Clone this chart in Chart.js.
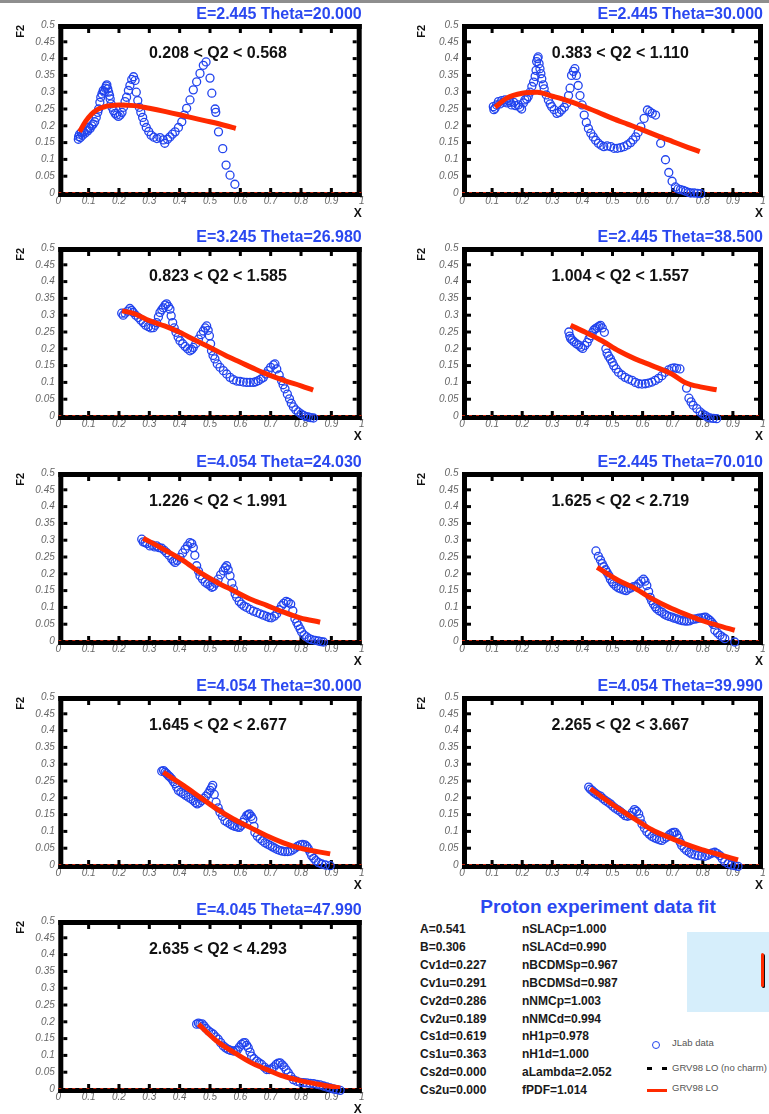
<!DOCTYPE html>
<html><head><meta charset="utf-8">
<script src="https://cdn.jsdelivr.net/npm/chart.js"></script>
<style>
html,body{margin:0;padding:0;background:#fff;}
#page{position:relative;width:769px;height:1114px;overflow:hidden;background:#fff;font-family:"Liberation Sans",Arial,sans-serif;}
#topbar{position:absolute;left:0;top:0;width:769px;height:3px;background:#8e8e8e;}
canvas.panel{position:absolute;}
.txt{position:absolute;white-space:nowrap;}
.par{font-weight:bold;font-size:12px;line-height:14px;color:#1a1a1a;}
.leg{font-size:9.5px;line-height:12px;color:#555;}
</style></head><body>
<div id="page">
<div id="topbar"></div>
<div class="txt" id="fitTitle" style="left:448px;top:896px;width:300px;text-align:center;font-weight:bold;font-size:19px;line-height:22px;color:#2a48f0;">Proton experiment data fit</div>
<div style="position:absolute;left:687px;top:932px;width:82px;height:80px;background:#d6eefb;"></div>
<div style="position:absolute;left:762px;top:954px;width:3px;height:34px;background:#111;border-radius:1.5px;"></div>
<div style="position:absolute;left:761px;top:953px;width:3px;height:34px;background:#ff2a00;border-radius:1.5px;"></div>
<div style="position:absolute;left:652px;top:1041px;width:6px;height:6px;border:1.4px solid #2244ee;border-radius:50%;"></div>
<div class="txt leg" style="left:672px;top:1037px;">JLab data</div>
<div style="position:absolute;left:647px;top:1066.5px;width:5px;height:3px;background:#000;"></div>
<div style="position:absolute;left:662px;top:1066.5px;width:5px;height:3px;background:#000;"></div>
<div class="txt leg" style="left:672px;top:1062px;">GRV98 LO (no charm)</div>
<div style="position:absolute;left:647px;top:1088.5px;width:20px;height:3.5px;background:#ff2a00;"></div>
<div class="txt leg" style="left:672px;top:1082px;">GRV98 LO</div>
</div>
<script>
// ---------- data ----------
const panelTitles = ["E=2.445 Theta=20.000","E=2.445 Theta=30.000","E=3.245 Theta=26.980","E=2.445 Theta=38.500","E=4.054 Theta=24.030","E=2.445 Theta=70.010","E=4.054 Theta=30.000","E=4.054 Theta=39.990","E=4.045 Theta=47.990"];
const q2Ranges = ["0.208 < Q2 < 0.568","0.383 < Q2 < 1.110","0.823 < Q2 < 1.585","1.004 < Q2 < 1.557","1.226 < Q2 < 1.991","1.625 < Q2 < 2.719","1.645 < Q2 < 2.677","2.265 < Q2 < 3.667","2.635 < Q2 < 4.293"];
const xTicks = [0,0.1,0.2,0.3,0.4,0.5,0.6,0.7,0.8,0.9,1];
const yTicks = [0,0.05,0.1,0.15,0.2,0.25,0.3,0.35,0.4,0.45,0.5];
const paramsLeft = ["A=0.541","B=0.306","Cv1d=0.227","Cv1u=0.291","Cv2d=0.286","Cv2u=0.189","Cs1d=0.619","Cs1u=0.363","Cs2d=0.000","Cs2u=0.000"];
const paramsRight = ["nSLACp=1.000","nSLACd=0.990","nBCDMSp=0.967","nBCDMSd=0.987","nNMCp=1.003","nNMCd=0.994","nH1p=0.978","nH1d=1.000","aLambda=2.052","fPDF=1.014"];

const jlab1X = [0.066,0.067,0.070,0.073,0.076,0.080,0.083,0.088,0.092,0.097,0.100,0.105,0.110,0.115,0.120,0.125,0.130,0.133,0.137,0.140,0.144,0.148,0.152,0.155,0.158,0.160,0.163,0.166,0.169,0.171,0.174,0.177,0.182,0.187,0.192,0.198,0.204,0.210,0.215,0.220,0.225,0.231,0.236,0.242,0.248,0.253,0.257,0.262,0.267,0.272,0.278,0.283,0.290,0.298,0.306,0.315,0.325,0.335,0.346,0.351,0.360,0.368,0.376,0.385,0.396,0.407,0.415,0.423,0.434,0.445,0.456,0.467,0.478,0.487,0.500,0.506,0.517,0.519,0.528,0.542,0.553,0.566,0.582];
const jlab1Y = [0.160,0.168,0.175,0.165,0.180,0.172,0.182,0.178,0.188,0.185,0.195,0.192,0.200,0.205,0.212,0.225,0.240,0.250,0.270,0.285,0.295,0.305,0.300,0.312,0.318,0.322,0.310,0.300,0.290,0.280,0.265,0.255,0.245,0.237,0.232,0.228,0.232,0.240,0.255,0.272,0.285,0.305,0.320,0.338,0.346,0.335,0.300,0.275,0.255,0.240,0.225,0.210,0.195,0.183,0.172,0.166,0.162,0.165,0.158,0.148,0.160,0.167,0.175,0.182,0.195,0.212,0.232,0.252,0.277,0.307,0.331,0.356,0.380,0.390,0.342,0.297,0.250,0.240,0.182,0.132,0.083,0.053,0.026];
const fit1X = [0.07,0.09,0.11,0.13,0.15,0.17,0.2,0.25,0.3,0.35,0.4,0.45,0.5,0.55,0.585];
const fit1Y = [0.182,0.213,0.235,0.249,0.256,0.260,0.262,0.260,0.252,0.243,0.233,0.222,0.212,0.201,0.192];

const jlab2X = [0.104,0.106,0.110,0.115,0.121,0.126,0.132,0.138,0.143,0.150,0.155,0.160,0.165,0.172,0.178,0.187,0.192,0.198,0.204,0.209,0.215,0.220,0.226,0.232,0.238,0.243,0.246,0.248,0.251,0.253,0.256,0.259,0.262,0.265,0.270,0.273,0.280,0.287,0.293,0.298,0.306,0.315,0.323,0.331,0.340,0.348,0.354,0.359,0.364,0.370,0.375,0.380,0.386,0.392,0.399,0.406,0.413,0.420,0.428,0.436,0.444,0.453,0.462,0.471,0.482,0.494,0.505,0.516,0.527,0.538,0.549,0.560,0.568,0.577,0.585,0.594,0.605,0.616,0.624,0.632,0.643,0.660,0.676,0.687,0.698,0.709,0.718,0.726,0.735,0.743,0.752,0.760,0.771,0.782,0.793];
const jlab2Y = [0.257,0.248,0.252,0.262,0.272,0.265,0.275,0.270,0.277,0.268,0.275,0.270,0.262,0.270,0.260,0.262,0.255,0.250,0.268,0.277,0.280,0.287,0.300,0.317,0.330,0.347,0.365,0.391,0.400,0.405,0.385,0.370,0.355,0.340,0.322,0.310,0.292,0.277,0.265,0.257,0.248,0.237,0.240,0.247,0.255,0.267,0.290,0.312,0.350,0.362,0.370,0.350,0.320,0.290,0.262,0.232,0.210,0.192,0.178,0.167,0.157,0.148,0.142,0.138,0.140,0.138,0.133,0.133,0.135,0.138,0.143,0.150,0.158,0.167,0.180,0.197,0.222,0.247,0.242,0.237,0.232,0.148,0.099,0.061,0.035,0.018,0.012,0.010,0.008,0.005,0.002,0.000,0.000,-0.001,-0.002];
const fit2X = [0.11,0.15,0.2,0.25,0.3,0.35,0.4,0.45,0.5,0.55,0.6,0.65,0.7,0.75,0.79];
const fit2Y = [0.255,0.283,0.297,0.300,0.288,0.275,0.259,0.241,0.222,0.205,0.188,0.170,0.153,0.136,0.123];

const jlab3X = [0.209,0.214,0.220,0.228,0.236,0.242,0.247,0.255,0.264,0.272,0.280,0.288,0.297,0.305,0.313,0.319,0.324,0.330,0.335,0.341,0.346,0.352,0.357,0.363,0.368,0.372,0.377,0.382,0.388,0.395,0.401,0.410,0.418,0.426,0.434,0.440,0.445,0.453,0.462,0.470,0.478,0.484,0.489,0.494,0.498,0.502,0.505,0.510,0.516,0.524,0.533,0.544,0.555,0.566,0.577,0.588,0.599,0.610,0.621,0.632,0.643,0.651,0.659,0.668,0.676,0.684,0.692,0.700,0.709,0.714,0.720,0.728,0.736,0.741,0.747,0.755,0.762,0.768,0.775,0.783,0.791,0.800,0.808,0.816,0.824,0.832,0.841];
const jlab3Y = [0.306,0.300,0.306,0.312,0.320,0.314,0.308,0.300,0.293,0.285,0.278,0.270,0.266,0.262,0.263,0.270,0.278,0.295,0.308,0.316,0.322,0.330,0.334,0.326,0.318,0.298,0.278,0.262,0.249,0.235,0.224,0.215,0.207,0.200,0.194,0.198,0.204,0.215,0.229,0.242,0.253,0.262,0.268,0.255,0.239,0.215,0.194,0.180,0.170,0.155,0.145,0.135,0.125,0.115,0.108,0.104,0.103,0.101,0.100,0.100,0.100,0.102,0.105,0.110,0.115,0.125,0.135,0.145,0.152,0.155,0.140,0.122,0.105,0.093,0.081,0.065,0.051,0.038,0.027,0.018,0.012,0.006,0.002,-0.002,-0.003,-0.005,-0.006];
const fit3X = [0.21,0.25,0.3,0.35,0.4,0.45,0.5,0.55,0.6,0.65,0.7,0.75,0.8,0.84];
const fit3Y = [0.313,0.305,0.284,0.268,0.249,0.226,0.204,0.181,0.160,0.139,0.120,0.104,0.090,0.077];

const jlab4X = [0.355,0.358,0.361,0.366,0.372,0.380,0.388,0.395,0.401,0.408,0.416,0.422,0.427,0.433,0.438,0.444,0.449,0.455,0.460,0.466,0.473,0.478,0.482,0.487,0.493,0.499,0.504,0.512,0.520,0.531,0.542,0.553,0.565,0.576,0.587,0.598,0.609,0.620,0.631,0.642,0.653,0.664,0.675,0.686,0.697,0.705,0.713,0.724,0.746,0.754,0.761,0.768,0.780,0.791,0.799,0.807,0.815,0.824,0.835,0.846];
const jlab4Y = [0.250,0.238,0.231,0.226,0.221,0.215,0.211,0.205,0.201,0.210,0.219,0.230,0.239,0.248,0.256,0.260,0.263,0.267,0.270,0.262,0.249,0.200,0.187,0.178,0.170,0.160,0.150,0.140,0.130,0.122,0.115,0.110,0.106,0.100,0.096,0.095,0.096,0.098,0.101,0.106,0.112,0.120,0.130,0.137,0.142,0.143,0.142,0.140,0.083,0.053,0.042,0.032,0.022,0.012,0.006,0.002,-0.003,-0.006,-0.007,-0.008];
const fit4X = [0.361,0.41,0.465,0.52,0.575,0.631,0.697,0.741,0.796,0.846];
const fit4Y = [0.270,0.249,0.224,0.194,0.170,0.150,0.125,0.100,0.086,0.078];

const jlab5X = [0.275,0.280,0.286,0.292,0.302,0.310,0.318,0.324,0.332,0.341,0.349,0.357,0.365,0.374,0.380,0.385,0.392,0.401,0.410,0.418,0.426,0.434,0.440,0.445,0.450,0.456,0.462,0.467,0.475,0.484,0.492,0.500,0.506,0.511,0.519,0.527,0.535,0.544,0.550,0.555,0.560,0.566,0.572,0.577,0.583,0.588,0.596,0.604,0.612,0.621,0.632,0.643,0.654,0.665,0.676,0.687,0.695,0.703,0.712,0.720,0.728,0.736,0.743,0.751,0.758,0.766,0.773,0.780,0.786,0.791,0.797,0.802,0.810,0.819,0.827,0.835,0.846,0.857,0.866,0.874];
const jlab5Y = [0.303,0.295,0.293,0.290,0.283,0.285,0.280,0.283,0.278,0.276,0.270,0.263,0.255,0.244,0.238,0.234,0.240,0.249,0.262,0.273,0.283,0.293,0.290,0.278,0.255,0.224,0.208,0.194,0.185,0.175,0.170,0.165,0.160,0.162,0.172,0.184,0.197,0.209,0.218,0.224,0.212,0.194,0.172,0.155,0.140,0.130,0.118,0.110,0.104,0.100,0.094,0.089,0.085,0.081,0.077,0.073,0.070,0.069,0.074,0.081,0.093,0.105,0.112,0.118,0.115,0.110,0.090,0.066,0.055,0.046,0.036,0.027,0.018,0.012,0.007,0.004,0.002,0.000,-0.002,-0.003];
const fit5X = [0.28,0.357,0.412,0.467,0.522,0.577,0.632,0.687,0.742,0.797,0.863];
const fit5Y = [0.306,0.268,0.239,0.204,0.175,0.150,0.125,0.106,0.086,0.069,0.056];

const jlab6X = [0.445,0.453,0.460,0.466,0.471,0.477,0.482,0.488,0.493,0.499,0.504,0.512,0.520,0.528,0.537,0.545,0.553,0.561,0.570,0.578,0.587,0.595,0.603,0.608,0.614,0.620,0.625,0.630,0.636,0.642,0.647,0.655,0.664,0.672,0.680,0.688,0.697,0.705,0.713,0.721,0.730,0.738,0.746,0.755,0.763,0.771,0.779,0.787,0.796,0.803,0.809,0.817,0.824,0.830,0.835,0.840,0.849,0.857,0.865,0.873,0.906];
const jlab6Y = [0.268,0.252,0.241,0.230,0.221,0.212,0.204,0.195,0.184,0.176,0.170,0.163,0.158,0.155,0.152,0.150,0.155,0.158,0.162,0.163,0.170,0.178,0.184,0.178,0.165,0.147,0.130,0.120,0.110,0.102,0.096,0.090,0.086,0.080,0.076,0.073,0.071,0.068,0.066,0.063,0.061,0.060,0.059,0.060,0.063,0.065,0.066,0.068,0.069,0.070,0.071,0.066,0.061,0.055,0.049,0.032,0.024,0.017,0.012,0.007,-0.003];
const fit6X = [0.449,0.52,0.576,0.631,0.686,0.741,0.796,0.851,0.906];
const fit6Y = [0.219,0.180,0.156,0.126,0.101,0.080,0.061,0.046,0.032];

const jlab7X = [0.341,0.347,0.352,0.357,0.363,0.368,0.374,0.380,0.385,0.390,0.396,0.404,0.412,0.420,0.429,0.437,0.445,0.452,0.458,0.466,0.473,0.480,0.487,0.494,0.500,0.505,0.509,0.514,0.520,0.527,0.533,0.541,0.549,0.557,0.566,0.574,0.582,0.590,0.597,0.603,0.608,0.614,0.621,0.626,0.630,0.636,0.641,0.645,0.648,0.656,0.665,0.673,0.681,0.690,0.698,0.706,0.714,0.722,0.731,0.739,0.747,0.756,0.764,0.772,0.780,0.788,0.797,0.805,0.813,0.819,0.824,0.830,0.835,0.842,0.849,0.858,0.868,0.880,0.896];
const jlab7Y = [0.279,0.281,0.276,0.272,0.266,0.262,0.256,0.248,0.242,0.232,0.222,0.217,0.212,0.207,0.202,0.197,0.192,0.186,0.182,0.186,0.192,0.198,0.205,0.213,0.222,0.230,0.237,0.210,0.187,0.170,0.157,0.145,0.132,0.127,0.122,0.118,0.115,0.113,0.112,0.118,0.127,0.137,0.147,0.150,0.152,0.145,0.137,0.115,0.097,0.086,0.078,0.072,0.066,0.062,0.058,0.054,0.050,0.046,0.043,0.041,0.040,0.040,0.041,0.045,0.050,0.055,0.060,0.061,0.060,0.055,0.048,0.038,0.028,0.020,0.013,0.007,0.003,0.000,-0.002];
const fit7X = [0.346,0.412,0.467,0.522,0.577,0.632,0.687,0.742,0.797,0.896];
const fit7Y = [0.276,0.237,0.202,0.167,0.137,0.112,0.087,0.066,0.050,0.033];

const jlab8X = [0.421,0.426,0.432,0.438,0.445,0.452,0.460,0.468,0.476,0.485,0.493,0.501,0.509,0.518,0.526,0.534,0.542,0.550,0.559,0.566,0.573,0.580,0.587,0.592,0.598,0.606,0.614,0.622,0.631,0.639,0.647,0.656,0.664,0.672,0.680,0.689,0.697,0.703,0.708,0.714,0.719,0.725,0.730,0.738,0.746,0.755,0.763,0.774,0.785,0.796,0.807,0.816,0.824,0.832,0.840,0.848,0.857,0.865,0.873,0.884,0.895,0.906,0.917];
const jlab8Y = [0.232,0.226,0.222,0.217,0.212,0.208,0.205,0.198,0.192,0.187,0.182,0.175,0.169,0.164,0.159,0.153,0.147,0.145,0.147,0.157,0.165,0.160,0.152,0.138,0.122,0.110,0.099,0.092,0.085,0.081,0.078,0.075,0.073,0.078,0.083,0.090,0.095,0.097,0.097,0.090,0.080,0.068,0.058,0.050,0.043,0.038,0.033,0.030,0.028,0.027,0.026,0.029,0.033,0.036,0.038,0.034,0.028,0.018,0.010,0.004,0.000,-0.002,-0.004];
const fit8X = [0.427,0.52,0.576,0.631,0.686,0.741,0.796,0.851,0.917];
const fit8Y = [0.227,0.168,0.136,0.105,0.083,0.063,0.046,0.032,0.015];

const jlab9X = [0.456,0.462,0.467,0.474,0.480,0.487,0.495,0.503,0.511,0.519,0.527,0.535,0.544,0.552,0.560,0.568,0.577,0.584,0.590,0.597,0.604,0.610,0.615,0.621,0.626,0.632,0.637,0.645,0.654,0.662,0.670,0.679,0.687,0.695,0.703,0.711,0.718,0.725,0.731,0.738,0.744,0.751,0.758,0.766,0.775,0.786,0.797,0.808,0.819,0.830,0.841,0.852,0.863,0.874,0.885,0.896,0.907,0.918,0.929];
const jlab9Y = [0.193,0.196,0.193,0.194,0.188,0.180,0.173,0.168,0.163,0.155,0.148,0.138,0.128,0.122,0.118,0.115,0.113,0.114,0.116,0.125,0.133,0.137,0.138,0.130,0.123,0.110,0.098,0.090,0.083,0.078,0.073,0.065,0.058,0.058,0.060,0.066,0.073,0.077,0.078,0.072,0.066,0.057,0.048,0.038,0.028,0.023,0.020,0.019,0.018,0.017,0.016,0.014,0.012,0.009,0.006,0.003,0.000,-0.002,-0.004];
const fit9X = [0.462,0.522,0.577,0.632,0.687,0.742,0.797,0.852,0.929];
const fit9Y = [0.193,0.143,0.110,0.080,0.058,0.038,0.025,0.015,0.003];

const zeroLineX = [0,1];
const zeroLineY = [0,0];

const jlabX = [jlab1X,jlab2X,jlab3X,jlab4X,jlab5X,jlab6X,jlab7X,jlab8X,jlab9X];
const jlabY = [jlab1Y,jlab2Y,jlab3Y,jlab4Y,jlab5Y,jlab6Y,jlab7Y,jlab8Y,jlab9Y];
const fitX = [fit1X,fit2X,fit3X,fit4X,fit5X,fit6X,fit7X,fit8X,fit9X];
const fitY = [fit1Y,fit2Y,fit3Y,fit4Y,fit5Y,fit6Y,fit7Y,fit8Y,fit9Y];

// ---------- layout ----------
const FONT = '"Liberation Sans", Arial, sans-serif';
Chart.defaults.font.family = FONT;
const rowTop = [0,223,448,672,896];
const colLeft = [0,385];
const colW = [385,384];
const colYW = [58.3,77];
const colPadR = [23.3,6];
const colF2Pad = [14,30.4];
const CH = 224;
const BLUE = '#2244ee', RED = '#ff2a00', TITLEBLUE = '#2a48f0';

const zip = (xs,ys) => xs.map((v,i)=>({x:v,y:ys[i]}));

const framePlugin = {
  id:'frame',
  beforeDatasetsDraw(chart, args, opts){
    const {ctx, chartArea:a, scales:{x,y}} = chart;
    ctx.save();
    ctx.fillStyle = '#000';
    const t = 5;
    ctx.fillRect(a.left, a.top-1, a.right-a.left, t);
    ctx.fillRect(a.left, a.bottom-1, a.right-a.left, t);
    ctx.fillRect(a.left, a.top-1, t, a.bottom-a.top+t);
    ctx.fillRect(a.right-t, a.top-1, t, a.bottom-a.top+t);
    x.ticks.forEach((tk,i)=>{
      if(i===0||i===x.ticks.length-1) return;
      const px = x.getPixelForTick(i);
      ctx.fillRect(px-1.5, a.top-1+t, 3, 4);
      ctx.fillRect(px-1.5, a.bottom-1-4, 3, 4);
    });
    y.ticks.forEach((tk,i)=>{
      if(i===0||i===y.ticks.length-1) return;
      const py = y.getPixelForTick(i);
      ctx.fillRect(a.left+t, py-1.5, 4, 3);
      ctx.fillRect(a.right-t-4, py-1.5, 4, 3);
    });
    ctx.font = 'bold 16px ' + FONT;
    ctx.textAlign = 'center';
    ctx.textBaseline = 'middle';
    ctx.fillStyle = '#111';
    ctx.fillText(opts.label, x.getPixelForValue(0.526), y.getPixelForValue(0.414));
    ctx.restore();
  }
};

const page = document.getElementById('page');
for(let i=0;i<9;i++){
  const col = i%2, row = Math.floor(i/2);
  const cv = document.createElement('canvas');
  cv.className = 'panel';
  cv.width = colW[col]; cv.height = CH;
  cv.style.left = colLeft[col]+'px';
  cv.style.top = rowTop[row]+'px';
  cv.style.width = colW[col]+'px';
  cv.style.height = CH+'px';
  page.appendChild(cv);
  new Chart(cv.getContext('2d'), {
    type:'scatter',
    data:{datasets:[
      {label:'GRV98 LO', data:zip(fitX[i],fitY[i]), showLine:true, pointRadius:0, borderColor:RED, backgroundColor:RED, borderWidth:5, cubicInterpolationMode:'monotone'},
      {label:'JLab data', data:zip(jlabX[i],jlabY[i]), pointRadius:4, pointStyle:'circle', borderColor:BLUE, backgroundColor:'rgba(0,0,0,0)', borderWidth:1.3, clip:false},
      {label:'GRV98 LO (no charm)', data:zip(zeroLineX,zeroLineY), showLine:true, pointRadius:0, borderColor:'#ff3010', borderWidth:1.5, borderDash:[3,4]}
    ]},
    options:{
      responsive:false, animation:false, devicePixelRatio:1, events:[],
      layout:{padding:{left:0, right:colPadR[col], top:5, bottom:0}},
      plugins:{
        legend:{display:false}, tooltip:{enabled:false},
        title:{display:true, text:panelTitles[i], align:'end', color:TITLEBLUE, font:{size:16, weight:'bold', family:FONT}, padding:{top:0,bottom:0.8}},
        frame:{label:q2Ranges[i]}
      },
      scales:{
        x:{type:'linear', position:'bottom', min:0, max:1,
           afterBuildTicks:s=>{s.ticks = xTicks.map(v=>({value:v}));},
           ticks:{autoSkip:false, maxRotation:0, padding:2.5, color:'#666', font:{size:10, style:'italic', family:FONT}, callback:v=>String(+(+v).toFixed(2))},
           grid:{display:false, drawTicks:false}, border:{display:false},
           title:{display:true, text:'X', align:'end', color:'#111', font:{size:12, weight:'bold', family:FONT}, padding:{top:0,bottom:2.8}},
           afterFit:s=>{s.height = CH-193;}},
        y:{type:'linear', position:'left', min:0, max:0.5,
           afterBuildTicks:s=>{s.ticks = yTicks.map(v=>({value:v}));},
           ticks:{autoSkip:false, padding:3.5, color:'#666', font:{size:10, style:'italic', family:FONT}, callback:v=>String(+(+v).toFixed(2))},
           grid:{display:false, drawTicks:false}, border:{display:false},
           title:{display:true, text:'F2', align:'end', color:'#111', font:{size:11, weight:'bold', family:FONT}, padding:{top:colF2Pad[col],bottom:0}},
           afterFit:s=>{s.width = colYW[col];}}
      }
    },
    plugins:[framePlugin]
  });
}

// parameter lists
paramsLeft.forEach((t,k)=>{
  const d = document.createElement('div');
  d.className='txt par'; d.textContent=t;
  d.style.left='420px'; d.style.top=(922+k*17.9)+'px';
  page.appendChild(d);
});
paramsRight.forEach((t,k)=>{
  const d = document.createElement('div');
  d.className='txt par'; d.textContent=t;
  d.style.left='522px'; d.style.top=(922+k*17.9)+'px';
  page.appendChild(d);
});
</script>
</body></html>
